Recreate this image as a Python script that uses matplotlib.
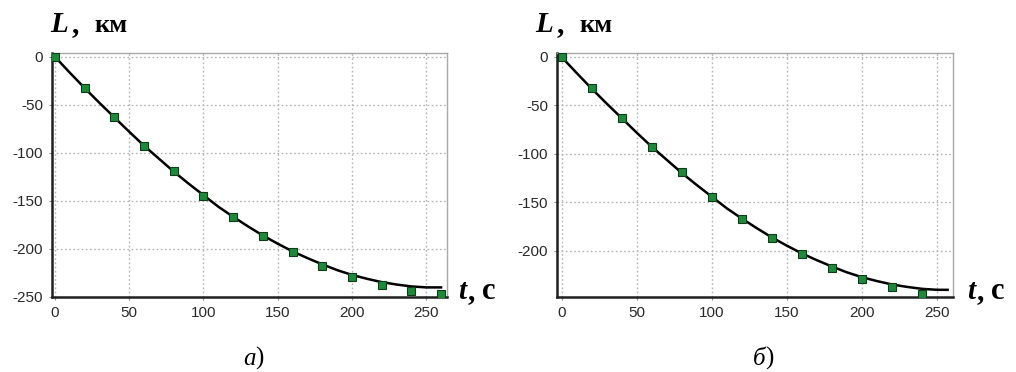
import matplotlib
matplotlib.use("Agg")
import matplotlib.pyplot as plt

plt.rcParams["axes.unicode_minus"] = False

# ---- data ----
marker_t = [0, 20, 40, 60, 80, 100, 120, 140, 160, 180, 200, 220, 240, 260]
marker_L = [0, -32, -63, -93, -119, -144.5, -167, -186.5, -203, -218, -229, -237, -244, -247]

line_t = [0, 10, 20, 30, 40, 50, 60, 70, 80, 90, 100, 110, 120, 130, 140, 150,
          160, 170, 180, 190, 200, 210, 220, 230, 240, 250, 260]
line_L = [0, -16.5, -32.5, -48, -63, -78, -92.5, -106, -119.5, -132, -144, -156,
          -166.5, -176.5, -186, -194.5, -202.5, -209.5, -216, -222, -227, -231,
          -234.5, -237, -239, -240, -240]

x_ticks = [0, 50, 100, 150, 200, 250]
y_ticks_a = [0, -50, -100, -150, -200, -250]
y_ticks_b = [0, -50, -100, -150, -200]
captions = [("а", ")"), ("б", ")")]

W, H = 1016, 372
fig = plt.figure(figsize=(W / 100, H / 100), dpi=100)

panels = [
    dict(rect=[52 / W, 1 - 297 / H, 395 / W, 244 / H], xlim=(-2, 264), ylim=(-250, 4),
         mt=marker_t, mL=marker_L, lt=line_t, lL=line_L, yt=y_ticks_a,
         Lx=50, tx=458, cx=244),
    dict(rect=[557 / W, 1 - 297 / H, 396 / W, 244 / H], xlim=(-3, 260.6), ylim=(-247.4, 4),
         mt=marker_t[:-1], mL=marker_L[:-1], lt=line_t[:-1] + [257], lL=line_L[:-1] + [line_L[-1]],
         yt=y_ticks_b, Lx=535, tx=967, cx=754),
]

serif = ["Liberation Serif", "DejaVu Serif"]
sans = ["Liberation Sans", "DejaVu Sans"]

for i, p in enumerate(panels):
    ax = fig.add_axes(p["rect"])
    ax.set_xlim(*p["xlim"])
    ax.set_ylim(*p["ylim"])
    ax.plot(p["lt"], p["lL"], color="black", lw=1.8, zorder=3)
    ax.plot(p["mt"], p["mL"], ls="none", marker="s", ms=5.2, mfc="#1c8a3a",
            mec="#0d3a18", mew=0.8, zorder=4)
    ax.set_xticks(x_ticks)
    ax.set_yticks(p["yt"])
    ax.grid(True, color="#b4b4b4", ls=(0, (1.2, 1.8)), lw=1.0)
    for s in ["top", "right"]:
        ax.spines[s].set_color("#a8a8a8")
        ax.spines[s].set_linewidth(1.0)
    for s in ["left", "bottom"]:
        ax.spines[s].set_color("#202020")
        ax.spines[s].set_linewidth(1.8)
    ax.tick_params(length=2.5, width=0.8, color="#909090", labelsize=11, pad=4)
    for lab in ax.get_xticklabels() + ax.get_yticklabels():
        lab.set_family(sans)
        lab.set_color("#2a2a2a")
    # axis labels
    fig.text(p["Lx"] / W, 1 - 32 / H, "L", family=serif, style="italic",
             weight="bold", fontsize=21, ha="left", va="baseline")
    fig.text((p["Lx"] + 22) / W, 1 - 32 / H, ",", family=serif,
             weight="bold", fontsize=21, ha="left", va="baseline")
    fig.text((p["Lx"] + 44) / W, 1 - 32 / H, "км", family=serif,
             weight="bold", fontsize=19, ha="left", va="baseline")
    fig.text(p["tx"] / W, 1 - 299 / H, "t", family=serif, style="italic",
             weight="bold", fontsize=21, ha="left", va="baseline")
    fig.text((p["tx"] + 10) / W, 1 - 299 / H, ",", family=serif,
             weight="bold", fontsize=21, ha="left", va="baseline")
    fig.text((p["tx"] + 24) / W, 1 - 299 / H, "с", family=serif,
             weight="bold", fontsize=22, ha="left", va="baseline")
    fig.text((p["cx"] + 12) / W, 1 - 365 / H, captions[i][0], family=serif, style="italic",
             fontsize=18, ha="right", va="baseline")
    fig.text((p["cx"] + 11.5) / W, 1 - 365 / H, captions[i][1], family=serif,
             fontsize=18, ha="left", va="baseline")

fig.savefig("out.png", dpi=100)
